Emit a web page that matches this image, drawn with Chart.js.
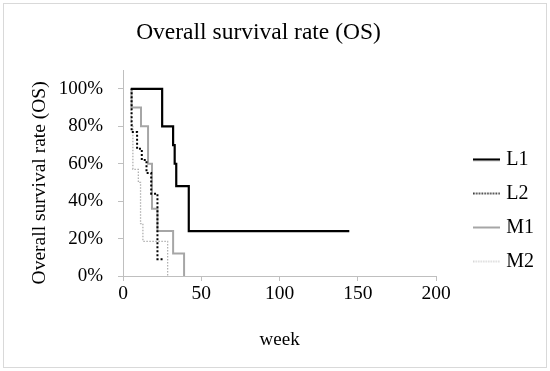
<!DOCTYPE html>
<html>
<head>
<meta charset="utf-8">
<script src="https://cdn.jsdelivr.net/npm/chart.js@4.4.1/dist/chart.umd.min.js"></script>
<style>
	body { margin: 0; background: #fff; }
	#frame { position: absolute; left: 3px; top: 3px; width: 542px; height: 363px; border: 1px solid #d9d9d9; }
	#wrap { position: absolute; left: 0; top: 0; width: 550px; height: 371px; }
</style>
</head>
<body>
<div id="frame"></div>
<div id="wrap"><canvas id="grafico_os"></canvas></div>
<script>
// dati (settimane, % sopravvivenza)
var seriesNames = ['L1', 'L2', 'M1', 'M2'];

var l1Weeks = [5, 25, 32, 33, 34, 42, 144.5];
var l1Values = [100, 80, 70, 60, 48, 24, 24];

var l2Weeks = [5, 5.5, 9, 12, 15, 18, 22, 25.5];
var l2Values = [100, 77, 68, 62, 55, 44, 9, 9];

var m1Weeks = [5, 5.5, 11.5, 16, 18.5, 22, 32, 39];
var m1Values = [100, 90, 80, 60, 36, 24, 12, 0];

var m2Weeks = [5, 5.2, 6.3, 9.8, 11.2, 12.7, 28.5];
var m2Values = [100, 81, 57, 50, 28, 18.5, 0];

var xTicks = [0, 50, 100, 150, 200];
var yTicks = [0, 20, 40, 60, 80, 100];

var serif = "'Liberation Serif', 'DejaVu Serif', serif";
var axisGray = '#bfbfbf';

function toPoints(weeks, values) {
	var pts = [];
	for (var i = 0; i < weeks.length; i++) {
		pts.push({x: weeks[i], y: values[i]});
	}
	return pts;
}

// piccolo canvas con la linea (anche tratteggiata) per la legenda
function lineaLegenda(colore, spessore, dash) {
	var c = document.createElement('canvas');
	c.width = 27; c.height = 4;
	var g = c.getContext('2d');
	g.strokeStyle = colore;
	g.lineWidth = spessore;
	g.setLineDash(dash);
	g.beginPath();
	g.moveTo(0, 2);
	g.lineTo(27, 2);
	g.stroke();
	return c;
}

// sposta la legenda dove sta nel grafico originale
var spostaLegenda = {
	id: 'spostaLegenda',
	afterLayout: function(chart) {
		var l = chart.legend;
		l.left += 27; l.right += 27;
		l.top += 25; l.bottom += 25;
	}
};

var config_grafico_os = {
	type: 'line',
	data: {
		datasets: [
			{label: seriesNames[0], data: toPoints(l1Weeks, l1Values), borderColor: '#000000', borderWidth: 2.2,
				pointStyle: lineaLegenda('#000000', 2.2, [])},
			{label: seriesNames[1], data: toPoints(l2Weeks, l2Values), borderColor: '#000000', borderWidth: 2, borderDash: [2, 2],
				pointStyle: lineaLegenda('#000000', 1.6, [1.6, 1.2])},
			{label: seriesNames[2], data: toPoints(m1Weeks, m1Values), borderColor: '#a6a6a6', borderWidth: 2,
				pointStyle: lineaLegenda('#a6a6a6', 2, [])},
			{label: seriesNames[3], data: toPoints(m2Weeks, m2Values), borderColor: '#b0b0b0', borderWidth: 1.3, borderDash: [1.5, 1.5],
				pointStyle: lineaLegenda('#b0b0b0', 1.2, [1.3, 1.2])}
		]
	},
	options: {
		responsive: true,
		maintainAspectRatio: false,
		animation: false,
		layout: {padding: {left: 0, right: 33, top: 0, bottom: 0}},
		elements: {
			point: {radius: 0},
			line: {stepped: 'before', fill: false, tension: 0}
		},
		plugins: {
			tooltip: {enabled: false},
			title: {
				display: true,
				text: 'Overall survival rate (OS)',
				color: '#000',
				font: {family: serif, size: 23.5, weight: 'normal'},
				padding: {top: 19, bottom: 23}
			},
			legend: {
				position: 'right',
				align: 'center',
				labels: {
					usePointStyle: true,
					pointStyleWidth: 19,
					padding: 14,
					color: '#000',
					font: {family: serif, size: 20}
				}
			}
		},
		scales: {
			x: {
				type: 'linear',
				min: 0,
				max: 200,
				afterFit: function(scale) { scale.height = 95; },
				afterBuildTicks: function(scale) { scale.ticks = xTicks.map(function(v) { return {value: v}; }); },
				ticks: {color: '#000', font: {family: serif, size: 19.5}, padding: 1.5, maxRotation: 0},
				grid: {drawOnChartArea: false, tickLength: 5, color: axisGray},
				border: {color: axisGray},
				title: {display: true, text: 'week', color: '#000', font: {family: serif, size: 19}, padding: {top: 0, bottom: 20}}
			},
			y: {
				min: 0,
				max: 110,
				afterFit: function(scale) { scale.width = 123; },
				afterBuildTicks: function(scale) { scale.ticks = yTicks.map(function(v) { return {value: v}; }); },
				ticks: {color: '#000', font: {family: serif, size: 19}, padding: 15, callback: function(v) { return v + '%'; }},
				grid: {drawOnChartArea: false, tickLength: 5, color: axisGray},
				border: {color: axisGray},
				title: {display: true, text: 'Overall survival rate (OS)\u00a0\u00a0\u00a0\u00a0', color: '#000', font: {family: serif, size: 19.5}, padding: {top: 28.3, bottom: 0}}
			}
		}
	},
	plugins: [spostaLegenda]
};

var ctx = document.getElementById('grafico_os').getContext('2d');
var grafico_os = new Chart(ctx, config_grafico_os);
</script>
</body>
</html>
